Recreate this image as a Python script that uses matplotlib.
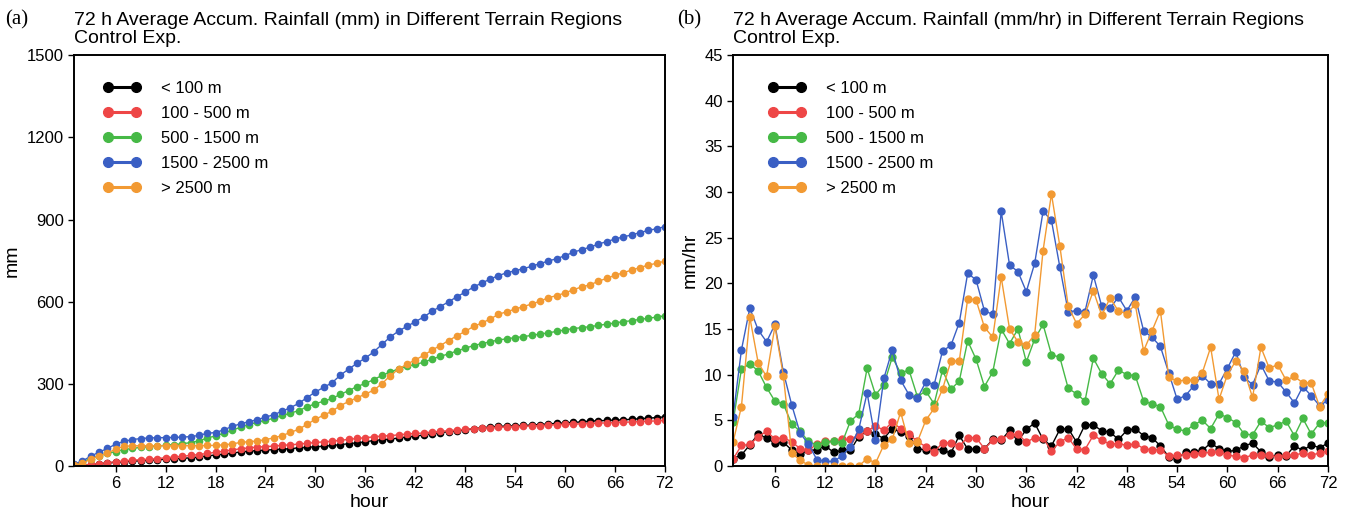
import matplotlib
matplotlib.use("Agg")
from matplotlib import pyplot as plt
from matplotlib.lines import Line2D

plt.rcParams['font.family'] = ['Liberation Sans', 'DejaVu Sans']

HOURS = list(range(1, 73))

LABELS = ["< 100 m", "100 - 500 m", "500 - 1500 m", "1500 - 2500 m", "> 2500 m"]
COLORS = ["#000000", "#ee4646", "#46b946", "#3a5fc4", "#f29a33"]

# hourly rain rate (mm/hr), one value per hour 1..72
RATE_LT100 = [0.8, 1.2, 2.3, 3.5, 3.05, 2.5, 2.6, 1.75, 1.3, 1.7, 1.75, 2.2,
              1.5, 1.7, 1.7, 3.2, 3.85, 3.5, 3.0, 4.1, 3.7, 3.3, 1.9, 1.75,
              1.9, 1.75, 1.4, 3.35, 1.85, 1.85, 1.9, 2.9, 2.8, 3.9, 2.7, 4.0,
              4.7, 2.9, 2.2, 4.0, 4.1, 2.6, 4.5, 4.5, 3.85, 3.7, 2.9, 3.9,
              4.1, 3.3, 3.1, 2.2, 1.0, 0.8, 1.5, 1.5, 1.7, 2.5, 1.9, 1.6,
              1.7, 2.2, 2.5, 1.55, 1.0, 1.2, 1.1, 2.2, 1.7, 2.3, 2.0, 2.5]
RATE_100_500 = [0.75, 2.25, 2.35, 3.2, 3.8, 2.95, 3.1, 2.65, 1.9, 1.7, 2.4, 2.7,
                2.7, 2.9, 2.9, 3.4, 3.8, 4.4, 3.9, 4.8, 4.1, 3.45, 2.7, 2.1,
                1.5, 2.55, 2.5, 2.2, 3.1, 3.1, 1.9, 2.8, 3.0, 3.4, 3.5, 2.6,
                3.1, 3.1, 1.6, 2.65, 3.1, 1.85, 1.8, 3.35, 2.8, 2.4, 2.45, 2.25,
                2.45, 1.9, 1.75, 1.8, 1.05, 1.2, 1.25, 1.3, 1.4, 1.5, 1.55, 1.2,
                1.05, 0.9, 1.2, 1.2, 1.15, 1.0, 1.15, 1.2, 1.4, 1.2, 1.4, 1.65]
RATE_500_1500 = [4.8, 10.6, 11.2, 10.4, 8.6, 7.1, 6.8, 4.6, 3.8, 2.7, 2.3, 2.6,
                 2.7, 2.5, 4.9, 5.7, 10.7, 7.8, 8.9, 11.9, 10.2, 10.5, 7.6, 8.2,
                 6.8, 10.5, 8.4, 9.3, 13.7, 11.7, 8.7, 10.3, 15.0, 13.4, 15.0, 11.4,
                 13.9, 15.5, 12.2, 11.9, 8.5, 7.9, 7.1, 11.8, 10.1, 9.0, 10.5, 10.0,
                 9.9, 7.1, 6.8, 6.5, 4.5, 4.0, 3.85, 4.5, 5.0, 4.1, 5.7, 5.3,
                 4.75, 3.5, 3.4, 4.9, 4.2, 4.5, 4.9, 3.3, 5.2, 3.5, 4.7, 4.75]
RATE_1500_2500 = [5.4, 12.7, 17.3, 14.9, 13.6, 15.5, 10.3, 6.7, 3.6, 2.4, 0.7, 0.5,
                  0.5, 1.1, 2.1, 4.0, 8.0, 2.8, 9.6, 12.7, 9.4, 7.8, 7.4, 9.2,
                  8.9, 12.6, 13.2, 15.7, 21.1, 20.4, 17.0, 16.6, 27.9, 22.0, 21.3, 19.1,
                  22.2, 27.9, 26.9, 21.8, 16.9, 17.0, 16.9, 20.9, 17.5, 17.3, 18.5, 17.0,
                  18.5, 14.8, 14.1, 13.1, 10.2, 7.3, 7.7, 8.8, 9.9, 9.0, 9.0, 10.7,
                  12.5, 9.7, 8.9, 11.1, 9.3, 9.2, 8.1, 6.9, 8.7, 7.7, 6.6, 7.2]
RATE_GT2500 = [2.6, 6.5, 16.3, 11.3, 9.8, 15.3, 9.9, 1.45, 0.6, 0.1, 0.0, 0.0,
               0.0, 0.0, 0.0, 0.0, 0.8, 0.3, 2.3, 2.9, 5.9, 2.5, 2.65, 5.0,
               6.3, 8.4, 11.5, 11.5, 18.3, 18.2, 15.2, 14.1, 20.7, 15.0, 13.6, 13.2,
               14.4, 23.6, 29.8, 24.1, 17.5, 15.6, 16.6, 19.2, 16.5, 18.4, 16.95, 16.7,
               17.7, 12.6, 14.8, 17.0, 9.7, 9.3, 9.4, 9.4, 10.2, 13.0, 7.3, 10.0,
               11.5, 10.4, 7.5, 13.0, 10.7, 11.1, 9.4, 9.8, 9.1, 9.1, 6.5, 7.9]

# accumulated rainfall (mm) at each hour 1..72
ACC_LT100 = [0.8, 2.0, 4.3, 7.8, 10.9, 13.4, 16.0, 17.7, 19.0, 20.7, 22.5, 24.7,
             26.2, 27.9, 29.6, 32.8, 36.6, 40.1, 43.1, 47.2, 50.9, 54.2, 56.1, 57.9,
             59.8, 61.5, 62.9, 66.3, 68.1, 70.0, 71.9, 74.8, 77.6, 81.5, 84.2, 88.2,
             92.9, 95.8, 98.0, 102.0, 106.1, 108.7, 113.2, 117.7, 121.5, 125.2, 128.1, 132.0,
             136.1, 139.4, 142.5, 144.7, 145.7, 146.5, 148.0, 149.5, 151.2, 153.7, 155.6, 157.2,
             158.9, 161.1, 163.6, 165.2, 166.2, 167.4, 168.5, 170.7, 172.4, 174.7, 176.7, 179.2]
ACC_100_500 = [0.8, 3.0, 5.4, 8.6, 12.4, 15.3, 18.4, 21.1, 23.0, 24.7, 27.1, 29.8,
               32.5, 35.4, 38.3, 41.7, 45.5, 49.9, 53.8, 58.6, 62.7, 66.1, 68.8, 70.9,
               72.4, 75.0, 77.5, 79.7, 82.8, 85.9, 87.8, 90.6, 93.6, 97.0, 100.5, 103.1,
               106.2, 109.3, 110.9, 113.5, 116.6, 118.5, 120.3, 123.6, 126.4, 128.8, 131.3, 133.5,
               136.0, 137.9, 139.6, 141.4, 142.5, 143.7, 144.9, 146.2, 147.6, 149.1, 150.7, 151.9,
               152.9, 153.8, 155.0, 156.2, 157.4, 158.4, 159.5, 160.7, 162.1, 163.3, 164.7, 166.4]
ACC_500_1500 = [4.8, 15.4, 26.6, 37.0, 45.6, 52.7, 59.5, 64.1, 67.9, 70.6, 72.9, 75.5,
                78.2, 80.7, 85.6, 91.3, 102.0, 109.8, 118.7, 130.6, 140.8, 151.3, 158.9, 167.1,
                173.9, 184.4, 192.8, 202.1, 215.8, 227.5, 236.2, 246.5, 261.5, 274.9, 289.9, 301.3,
                315.2, 330.7, 342.9, 354.8, 363.3, 371.2, 378.3, 390.1, 400.2, 409.2, 419.7, 429.7,
                439.6, 446.7, 453.5, 460.0, 464.5, 468.5, 472.4, 476.9, 481.9, 486.0, 491.7, 497.0,
                501.7, 505.2, 508.6, 513.5, 517.7, 522.2, 527.1, 530.4, 535.6, 539.1, 543.8, 548.6]
ACC_1500_2500 = [5.4, 18.1, 35.4, 50.3, 63.9, 79.4, 89.7, 96.4, 100.0, 102.4, 103.1, 103.6,
                 104.1, 105.2, 107.3, 111.3, 119.3, 122.1, 131.7, 144.4, 153.8, 161.6, 169.0, 178.2,
                 187.1, 199.7, 212.9, 228.6, 249.7, 270.1, 287.1, 303.7, 331.6, 353.6, 374.9, 394.0,
                 416.2, 444.1, 471.0, 492.8, 509.7, 526.7, 543.6, 564.5, 582.0, 599.3, 617.8, 634.8,
                 653.3, 668.1, 682.2, 695.3, 705.5, 712.8, 720.5, 729.3, 739.2, 748.2, 757.2, 767.9,
                 780.4, 790.1, 799.0, 810.1, 819.4, 828.6, 836.7, 843.6, 852.3, 860.0, 866.6, 873.8]
ACC_GT2500 = [2.6, 9.1, 25.4, 36.7, 46.5, 61.8, 71.7, 73.2, 73.8, 73.9, 73.9, 73.9,
              73.9, 73.9, 73.9, 73.9, 74.7, 75.0, 77.3, 80.2, 86.1, 88.6, 91.2, 96.2,
              102.5, 110.9, 122.4, 133.9, 152.2, 170.4, 185.6, 199.7, 220.4, 235.4, 249.0, 262.2,
              276.6, 300.2, 330.0, 354.1, 371.6, 387.2, 403.8, 423.0, 439.5, 457.9, 474.9, 491.6,
              509.3, 521.9, 536.7, 553.7, 563.4, 572.7, 582.1, 591.5, 601.7, 614.7, 622.0, 632.0,
              643.5, 653.9, 661.4, 674.4, 685.1, 696.2, 705.6, 715.4, 724.5, 733.6, 740.1, 748.0]

ACC = [ACC_LT100, ACC_100_500, ACC_500_1500, ACC_1500_2500, ACC_GT2500]
RATE = [RATE_LT100, RATE_100_500, RATE_500_1500, RATE_1500_2500, RATE_GT2500]

TITLE_A = "72 h Average Accum. Rainfall (mm) in Different Terrain Regions\nControl Exp."
TITLE_B = "72 h Average Accum. Rainfall (mm/hr) in Different Terrain Regions\nControl Exp."


def style_axes(ax, yticks, ylabel):
    ax.set_xlim(1, 72)
    ax.set_xticks(range(6, 73, 6))
    ax.set_ylim(yticks[0], yticks[-1])
    ax.set_yticks(yticks)
    ax.tick_params(labelsize=12, length=4, width=1, direction="out")
    for sp in ax.spines.values():
        sp.set_linewidth(1.4)
    ax.set_xlabel("hour", fontsize=14, labelpad=2)
    ax.set_ylabel(ylabel, fontsize=14, labelpad=4)


def add_legend(ax, x0):
    handles = [Line2D([], [], color=c, lw=2.2, marker="o", markersize=7)
               for c in COLORS]
    ax.legend(handles, LABELS, loc="upper left", frameon=False, fontsize=12,
              numpoints=2, handlelength=2.3, labelspacing=0.6,
              handletextpad=1.2, borderaxespad=0.9, bbox_to_anchor=(x0, 0.99))


fig = plt.figure(figsize=(13.49, 5.16), dpi=100)
ax_a = fig.add_axes([0.0549, 0.097, 0.438, 0.796])
ax_b = fig.add_axes([0.5434, 0.097, 0.441, 0.796])

for vals, col in zip(ACC, COLORS):
    ax_a.plot(HOURS, vals, color=col, lw=1.0, marker="o", markersize=4.5)
for vals, col in zip(RATE, COLORS):
    ax_b.plot(HOURS, vals, color=col, lw=1.0, marker="o", markersize=5)

style_axes(ax_a, list(range(0, 1501, 300)), "mm")
style_axes(ax_b, list(range(0, 46, 5)), "mm/hr")
add_legend(ax_a, 0.012)
add_legend(ax_b, 0.022)

for ax, title, tag, tag_x in [(ax_a, TITLE_A, "(a)", 0.004), (ax_b, TITLE_B, "(b)", 0.502)]:
    ax.text(0.0, 1.02, title, transform=ax.transAxes, fontsize=14,
            ha="left", va="bottom", linespacing=1.1)
    fig.text(tag_x, 0.962, tag, fontsize=15, family="Liberation Serif",
             ha="left", va="center")

fig.savefig("out.png", dpi=100)
